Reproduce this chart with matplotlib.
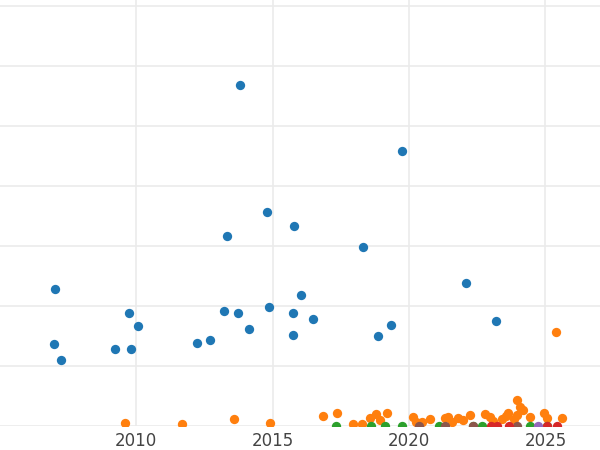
import matplotlib
matplotlib.use("Agg")
import matplotlib.pyplot as plt

blue_x = [2007.01,2006.98,2007.23,2009.21,2009.73,2009.8,2010.05,2012.22,2012.69,2013.2,2013.32,2013.72,2013.79,2014.12,2014.78,2014.85,2015.73,2015.77,2015.73,2016.03,2016.47,2018.3,2018.85,2019.32,2019.73,2022.07,2023.17]
blue_y = [2.28,1.37,1.10,1.28,1.88,1.28,1.67,1.38,1.43,1.92,3.17,1.88,5.68,1.62,3.57,1.98,1.88,3.33,1.52,2.18,1.78,2.98,1.5,1.68,4.58,2.38,1.75]
orange_x = [2009.58,2011.67,2013.57,2014.89,2016.83,2017.34,2017.93,2018.26,2018.55,2018.77,2018.92,2019.18,2020.13,2020.27,2020.46,2020.75,2021.3,2021.41,2021.59,2021.81,2021.96,2022.22,2022.77,2022.95,2023.06,2023.42,2023.57,2023.64,2023.94,2024.05,2024.16,2023.97,2023.86,2024.45,2024.96,2025.04,2025.59,2025.4]
orange_y = [0.05,0.03,0.12,0.05,0.17,0.22,0.03,0.03,0.13,0.2,0.1,0.22,0.15,0.07,0.07,0.12,0.13,0.15,0.07,0.13,0.1,0.18,0.2,0.15,0.08,0.12,0.17,0.22,0.43,0.32,0.27,0.18,0.12,0.15,0.22,0.13,0.13,1.57]
green_x = [2017.31,2018.59,2019.1,2019.73,2021.08,2022.33,2022.66,2024.45,2025.07]
brown_x = [2020.35,2021.3,2022.33,2023.97]
red_x = [2023.02,2023.24,2023.68,2025.07,2025.44]
purple_x = [2024.74]

fig = plt.figure(figsize=(6,4.5), dpi=100)
ax = fig.add_axes([0,0.0533,1,0.9467])
s = 45
ax.scatter(blue_x, blue_y, s=s, color="#1f77b4", zorder=3, linewidths=0)
ax.scatter(orange_x, orange_y, s=s, color="#ff7f0e", zorder=3, linewidths=0)
ax.scatter(green_x, [0]*len(green_x), s=s, color="#2ca02c", zorder=4, linewidths=0)
ax.scatter(brown_x, [0]*len(brown_x), s=s, color="#8c564b", zorder=4, linewidths=0)
ax.scatter(red_x, [0]*len(red_x), s=s, color="#d62728", zorder=4, linewidths=0)
ax.scatter(purple_x, [0]*len(purple_x), s=s, color="#9467bd", zorder=4, linewidths=0)
ax.set_xlim(2005, 2027)
ax.set_ylim(0, 7.1)
ax.set_xticks([2010,2015,2020,2025])
ax.set_yticks(range(0,8))
ax.set_yticklabels([])
ax.grid(True, color="#ebebeb", linewidth=1.2, zorder=0)
ax.set_axisbelow(True)
for sp in ax.spines.values():
    sp.set_visible(False)
ax.tick_params(length=0, labelsize=12, labelcolor="#444444", pad=4)
fig.savefig("out.png", dpi=100)
